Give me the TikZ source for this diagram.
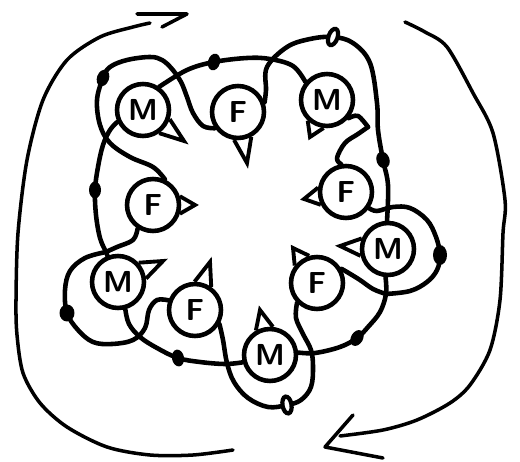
\documentclass[tikz,border=0pt]{standalone}
\usetikzlibrary{shapes.geometric}
\begin{document}
\begin{tikzpicture}[x=0.02cm,y=-0.02cm,
 dancer/.style={draw,circle,fill=white,line width=2.6pt,minimum size=1.04cm,inner sep=0pt,font=\sffamily\bfseries\LARGE},
 hand/.style={line width=2.6pt,line cap=round,line join=round},
 nose/.style={line width=2.2pt,line join=miter},
 bead/.style={ellipse,fill,inner sep=0pt,minimum width=0.24cm,minimum height=0.34cm},
 hollow/.style={bead,fill=white,draw,line width=2.4pt,minimum width=0.18cm},
 sweep/.style={line width=2pt,line cap=round,line join=round}]
\useasboundingbox (0,0) rectangle (520,462);
\node[dancer] (M1) at (143,110) {M};
\node[dancer] (F1) at (238,112) {F};
\node[dancer] (M2) at (327,100) {M};
\node[dancer] (F2) at (346,192) {F};
\node[dancer] (M3) at (388,249) {M};
\node[dancer] (F3) at (317,283) {F};
\node[dancer] (M4) at (270,355) {M};
\node[dancer] (F4) at (195,310) {F};
\node[dancer] (M5) at (118,282) {M};
\node[dancer] (F5) at (153,205) {F};
\draw[nose] (M1.-19) -- (184,141) -- (M1.-55);
\draw[nose] (F1.-62) -- (247,163) -- (F1.-98);
\draw[nose] (M2.-97) -- (310,137) -- (M2.-133);
\draw[nose] (F2.207) -- (304,199) -- (F2.171);
\draw[nose] (M3.194) -- (340,246) -- (M3.158);
\draw[nose] (F3.142) -- (293,248) -- (F3.106);
\draw[nose] (M4.120) -- (260,310) -- (M4.84);
\draw[nose] (F4.91) -- (210,262) -- (F4.55);
\draw[nose] (M5.43) -- (163,261) -- (M5.7);
\draw[nose] (F5.18) -- (195,205) -- (F5.-18);
\coordinate (d1) at (103,78);
\coordinate (d2) at (214,62);
\coordinate (d3) at (333,37);
\coordinate (d4) at (383,160);
\coordinate (d5) at (440,255);
\coordinate (d6) at (357,338);
\coordinate (d7) at (287,405);
\coordinate (d8) at (178,358);
\coordinate (d9) at (67,313);
\coordinate (d10) at (95,190);
\coordinate (j1) at (106,252);
\coordinate (j2) at (386,294);
\draw[hand] plot[smooth,tension=0.6] coordinates {(F5.65) (153,167) (130,157) (110,143) (100,125) (97,100) (d1) (110,67) (127,60) (150,57) (162,60) (172,69) (181,82) (187,97) (193,113) (203,126) (F1.215)};
\draw[hand] plot[smooth,tension=0.6] coordinates {(M1.55) (187,70) (d2) (247,58) (270,59) (293,66) (M2.140)};
\draw[hand] plot[smooth,tension=0.6] coordinates {(F1.20) (266,90) (267,67) (287,47) (310,39) (d3) (353,43) (370,63) (377,103) (378,130) (d4) (388,185) (M3.92)};
\draw[hand] plot[smooth,tension=0.6] coordinates {(M2.-40) (358,116) (368,127)};
\draw[hand] plot[smooth,tension=0.6] coordinates {(F2.100) (337,158) (345,143) (358,134) (368,127)};
\draw[hand] plot[smooth,tension=0.6] coordinates {(F2.-35) (377,211) (393,207) (410,208) (427,220) (436,237) (d5) (437,270) (427,282) (410,291) (j2)};
\draw[hand] plot[smooth,tension=0.6] coordinates {(F3.30) (347,272) (360,280) (373,289) (j2)};
\draw[hand] plot[smooth,tension=0.6] coordinates {(M3.265) (j2) (380,312) (368,327) (d6) (340,347) (315,353) (M4.5)};
\draw[hand] plot[smooth,tension=0.6] coordinates {(F3.225) (296,318) (303,334) (311,350) (313,367) (311,387) (301,400) (d7) (268,407) (248,398) (234,382) (227,363) (223,340) (F4.-30)};
\draw[hand] plot[smooth,tension=0.6] coordinates {(M4.195) (225,364) (200,362) (d8) (157,348) (140,337) (129,324) (M5.-75)};
\draw[hand] plot[smooth,tension=0.6] coordinates {(F4.160) (157,300) (149,310) (145,328) (133,340) (112,344) (93,342) (78,330) (d9) (65,290) (70,271) (85,258) (j1)};
\draw[hand] plot[smooth,tension=0.6] coordinates {(M1.205) (110,130) (103,145) (98,167) (d10) (96,215) (100,238) (j1) (M5.112)};
\draw[hand] plot[smooth,tension=0.6] coordinates {(F5.237) (133,240) (117,247) (j1)};
\node[bead,rotate=-20] at (d1) {};
\node[bead,rotate=-15] at (d2) {};
\node[hollow,rotate=-20] at (d3) {};
\node[bead,rotate=20,minimum width=0.26cm] at (d4) {};
\node[bead,minimum width=0.28cm,minimum height=0.4cm] at (d5) {};
\node[bead,rotate=-30] at (d6) {};
\node[hollow,rotate=10] at (d7) {};
\node[bead,rotate=10] at (d8) {};
\node[bead,minimum width=0.3cm] at (d9) {};
\node[bead] at (d10) {};
\draw[sweep] plot[smooth] coordinates {(233,450) (193,455) (150,455) (107,447) (67,427) (40,403) (23,373) (17,335) (16,300) (18,233) (27,160) (43,100) (67,60) (100,37) (133,27) (150,23)};
\draw[sweep] (137,14) -- (187,14) -- (162,27);
\draw[sweep] plot[smooth] coordinates {(405,22) (425,32) (447,47) (473,93) (493,133) (505,200) (503,233) (500,300) (490,350) (470,385) (450,403) (417,420) (383,430) (340,436)};
\draw[sweep] (353,415) -- (325,447) -- (383,458);
\end{tikzpicture}
\end{document}
